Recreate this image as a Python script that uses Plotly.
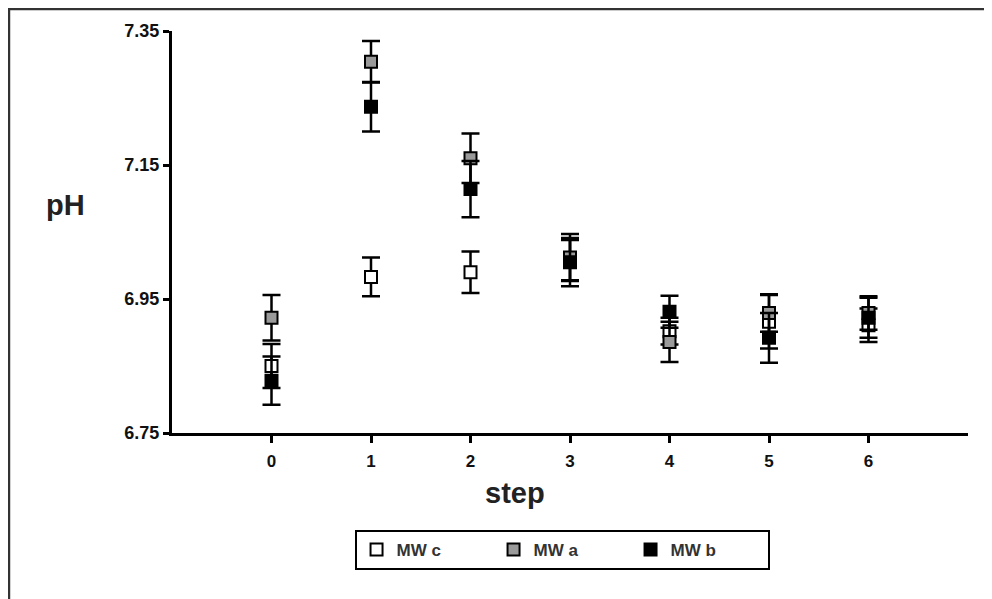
import plotly.graph_objects as go

steps = [0, 1, 2, 3, 4, 5, 6]

# pH means and error values
mw_c = [6.850, 6.983, 6.990, 7.008, 6.902, 6.916, 6.911]
mw_c_err = [0.033, 0.029, 0.031, 0.030, 0.020, 0.040, 0.025]

mw_a = [6.922, 7.304, 7.160, 7.012, 6.886, 6.929, 6.929]
mw_a_err = [0.034, 0.031, 0.037, 0.035, 0.030, 0.028, 0.025]

mw_b = [6.828, 7.237, 7.114, 7.005, 6.931, 6.892, 6.922]
mw_b_err = [0.036, 0.037, 0.042, 0.036, 0.024, 0.037, 0.030]

y_ticks = [6.75, 6.95, 7.15, 7.35]

series = [
    ("MW c", mw_c, mw_c_err, "white"),
    ("MW a", mw_a, mw_a_err, "#9a9a9a"),
    ("MW b", mw_b, mw_b_err, "black"),
]

fig = go.Figure()
for name, vals, errs, fill in series:
    fig.add_trace(go.Scatter(
        x=steps, y=vals, mode="markers", name=name,
        marker=dict(symbol="square", size=12, color=fill,
                    line=dict(color="black", width=2)),
        error_y=dict(type="data", array=errs, visible=True,
                     color="black", thickness=2.5, width=9),
    ))

font_family = "Liberation Sans, Arial, sans-serif"

fig.update_layout(
    width=984, height=591,
    margin=dict(l=164, r=24, t=23, b=166),
    paper_bgcolor="white", plot_bgcolor="white",
    font=dict(family=font_family, color="#111"),
    showlegend=True,
    legend=dict(
        orientation="h", x=0.49, xanchor="center", y=-0.241, yanchor="top",
        bordercolor="black", borderwidth=2, bgcolor="white",
        font=dict(size=17, color="#333", weight="bold"),
        entrywidth=92, itemsizing="constant",
    ),
    xaxis=dict(
        range=[-1, 7], tickvals=steps, ticktext=[str(s) for s in steps],
        showgrid=False, zeroline=False,
        showline=True, linecolor="black", linewidth=3,
        ticks="outside", ticklen=7, tickwidth=3, tickcolor="black",
        ticklabelstandoff=4,
        tickfont=dict(size=17, weight="bold", color="#111"),
    ),
    yaxis=dict(
        range=[6.75, 7.35], tickvals=y_ticks, ticktext=["6.75", "6.95", "7.15", "7.35"],
        showgrid=False, zeroline=False,
        showline=True, linecolor="black", linewidth=3,
        ticks="outside", ticklen=6, tickwidth=3, tickcolor="black",
        tickfont=dict(size=18, weight="bold", color="#111"),
    ),
    annotations=[
        dict(text="pH", xref="paper", yref="paper", x=-0.134, y=0.567,
             xanchor="center", yanchor="middle",
             showarrow=False, font=dict(size=29, weight="bold", color="#222")),
        dict(text="step", xref="paper", yref="paper", x=0.431, y=-0.149,
             xanchor="center", yanchor="middle",
             showarrow=False, font=dict(size=29, weight="bold", color="#222")),
    ],
    shapes=[
        dict(type="rect", xref="paper", yref="paper",
             x0=-0.2048, x1=1.0276, y0=-0.44, y1=1.0547,
             line=dict(color="#333", width=2.5), layer="below"),
    ],
)

fig.write_html("out.html")
